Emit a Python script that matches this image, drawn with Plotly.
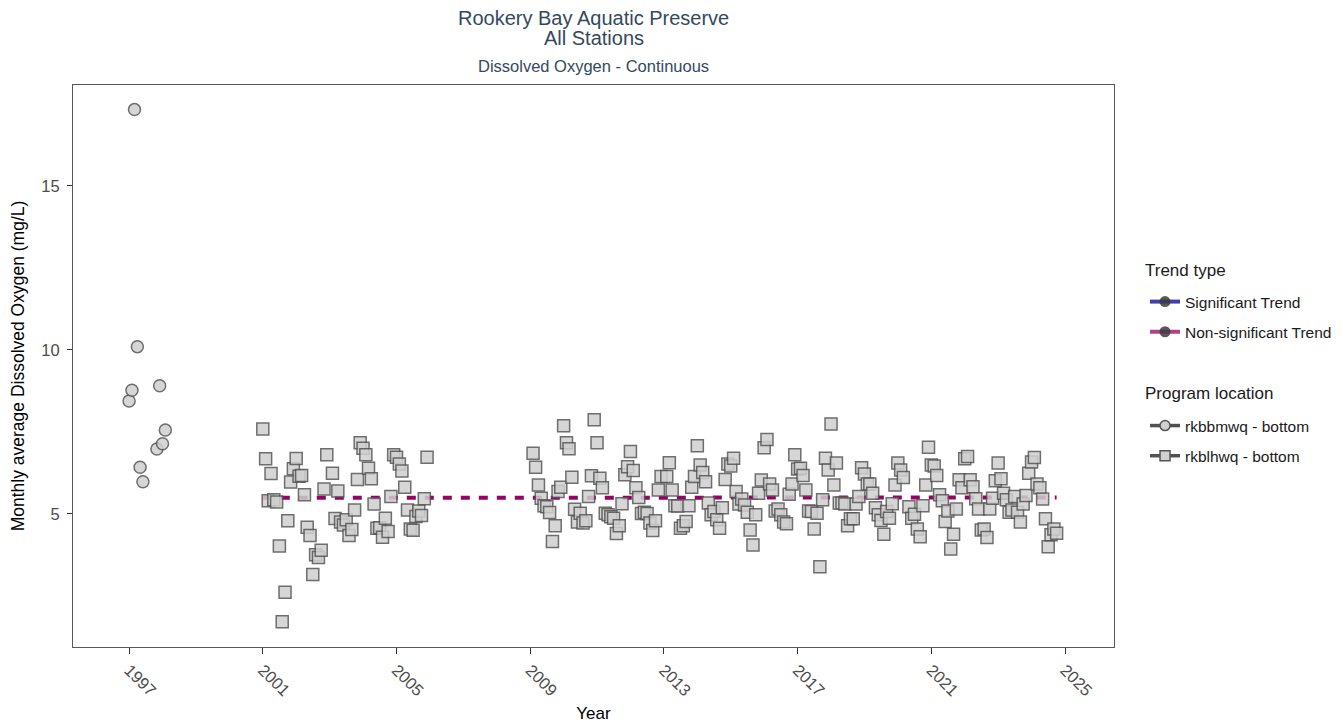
import plotly.graph_objects as go

# ---------------- text ----------------
TITLE_LINE1 = "Rookery Bay Aquatic Preserve"
TITLE_LINE2 = "All Stations"
SUBTITLE = "Dissolved Oxygen - Continuous"
Y_TITLE = "Monthly average Dissolved Oxygen (mg/L)"
X_TITLE = "Year"
TREND_LEGEND_TITLE = "Trend type"
PROGRAM_LEGEND_TITLE = "Program location"
TREND_TYPES = ["Significant Trend", "Non-significant Trend"]
PROGRAM_LOCATIONS = ["rkbbmwq - bottom", "rkblhwq - bottom"]

# ---------------- data ----------------
# rkbbmwq - bottom (circles)
rkbbmwq_months = ["1997-01", "1997-02", "1997-03", "1997-04", "1997-05",
                  "1997-06", "1997-11", "1997-12", "1998-01", "1998-02"]
rkbbmwq_do = [8.44, 8.77, 17.33, 10.10, 6.42, 5.98, 6.98, 8.91, 7.14, 7.56]

# rkblhwq - bottom (squares), monthly values Jan..Dec, None = no data
rkblhwq_2001 = [7.59, 6.68, 5.40, 6.23, 5.43, 5.36, 4.02, 1.71, 2.61, 4.79, 5.97, 6.38]
rkblhwq_2002 = [6.69, 6.15, 6.17, 5.58, 4.59, 4.34, 3.15, 3.75, 3.67, 3.89, 5.76, 6.80]
rkblhwq_2003 = [None, 6.24, 4.86, 5.70, 4.75, 4.66, 4.82, 4.34, 4.52, 5.12, 6.05, 7.17]
rkblhwq_2004 = [7.00, 6.80, 6.39, 6.07, 5.30, 4.56, 4.58, 4.29, 4.87, 4.46, 5.53, 6.80]
rkblhwq_2005 = [6.73, 6.52, 6.31, 5.81, 5.12, 4.54, 4.50, 4.92, 5.09, 4.95, 5.46, 6.73]
rkblhwq_2009 = [None, 6.85, 6.42, 5.88, 5.48, 5.25, 5.22, 5.04, 4.16, 4.64, 5.68, 5.81]
rkblhwq_2010 = [7.69, 7.17, 6.99, 6.12, 5.14, 4.75, 5.02, 4.72, 4.79, 5.53, 6.16, 7.87]
rkblhwq_2011 = [7.17, 6.09, 5.80, 5.02, 4.97, 4.91, 4.87, 4.40, 4.64, 5.31, 6.19, 6.44]
rkblhwq_2012 = [6.90, 6.32, 5.80, 5.50, 5.01, 5.05, 5.01, 4.72, 4.49, 4.79, 5.73, 6.14]
rkblhwq_2013 = [None, 6.14, 6.56, 5.73, 5.25, 5.24, 4.56, 4.64, 4.77, 5.25, 5.81, 6.14]
rkblhwq_2014 = [7.08, 6.49, 6.26, 5.98, 5.33, 4.97, 5.07, 4.82, 4.56, 5.19, 6.05, 6.52]
rkblhwq_2015 = [6.46, 6.70, 5.68, 5.30, 5.45, 5.27, 5.05, 4.51, 4.05, 4.97, 5.63, 6.03]
rkblhwq_2016 = [7.02, 7.27, 5.91, 5.73, 5.09, 5.15, 4.97, 4.75, 4.70, 5.60, 5.91, 6.80]
rkblhwq_2017 = [6.37, 6.39, 6.17, 5.73, 5.09, 5.07, 4.54, 5.02, 3.39, 5.43, 6.70, 6.34]
rkblhwq_2018 = [7.74, 5.88, 6.55, 5.33, 5.33, 5.30, 4.64, 4.85, 4.85, 5.30, 5.53, 6.41]
rkblhwq_2019 = [6.22, 5.91, 5.91, 5.63, 5.19, 4.97, 4.80, 4.38, 5.07, 4.87, 5.31, 5.88]
rkblhwq_2020 = [6.55, 6.34, 6.11, None, 5.22, 4.87, 4.99, 4.54, 4.30, 5.25, 5.88, 7.03]
rkblhwq_2021 = [6.49, 6.46, 6.17, 5.58, 5.40, 4.77, 5.09, 3.93, 4.38, 5.15, 6.04, 5.80]
rkblhwq_2022 = [6.68, 6.75, 6.04, 5.83, 5.46, 5.15, 4.51, 4.54, 4.28, 5.15, 5.48, 6.01]
rkblhwq_2023 = [6.55, 6.07, 5.63, 5.43, 5.05, 5.12, 5.53, 5.05, 4.75, 5.30, 5.56, 6.24]
rkblhwq_2024 = [6.58, 6.72, 5.91, 5.80, 5.45, 4.85, 4.00, 4.36, 4.54, 4.41, None, None]

rkblhwq_years = [2001, 2002, 2003, 2004, 2005, 2009, 2010, 2011, 2012, 2013,
                 2014, 2015, 2016, 2017, 2018, 2019, 2020, 2021, 2022, 2023, 2024]
rkblhwq_by_year = [rkblhwq_2001, rkblhwq_2002, rkblhwq_2003, rkblhwq_2004, rkblhwq_2005,
                   rkblhwq_2009, rkblhwq_2010, rkblhwq_2011, rkblhwq_2012, rkblhwq_2013,
                   rkblhwq_2014, rkblhwq_2015, rkblhwq_2016, rkblhwq_2017, rkblhwq_2018,
                   rkblhwq_2019, rkblhwq_2020, rkblhwq_2021, rkblhwq_2022, rkblhwq_2023,
                   rkblhwq_2024]

# non-significant trend for rkblhwq (start, end values)
trend_do = [5.49, 5.50]

x_tick_years = [1997, 2001, 2005, 2009, 2013, 2017, 2021, 2025]
y_tick_values = [5, 10, 15]

# ---------------- build ----------------
rkbbmwq_dates = [m + "-01" for m in rkbbmwq_months]
rkblhwq_dates, rkblhwq_do = [], []
for yr, vals in zip(rkblhwq_years, rkblhwq_by_year):
    for i, v in enumerate(vals):
        if v is not None:
            rkblhwq_dates.append(f"{yr}-{i + 1:02d}-01")
            rkblhwq_do.append(v)
trend_dates = [rkblhwq_dates[0], rkblhwq_dates[-1]]

FONT = "Liberation Sans, Arial, sans-serif"
FILL = "#d0d0d0"
EDGE = "#555555"
SIG_COLOR = "rgba(0,0,153,0.75)"
NONSIG_COLOR = "rgba(153,0,102,0.75)"
TREND_LINE_COLOR = "#990066"
TEXT_DARK = "#1a1a1a"

fig = go.Figure()

fig.add_trace(go.Scatter(
    x=trend_dates, y=trend_do, mode="lines",
    line=dict(color=TREND_LINE_COLOR, width=4, dash="9px,9px"),
    showlegend=False, hoverinfo="skip"))

fig.add_trace(go.Scatter(
    x=rkbbmwq_dates, y=rkbbmwq_do, mode="markers",
    marker=dict(symbol="circle", size=12, color=FILL, opacity=0.85,
                line=dict(color=EDGE, width=1.5)),
    name=PROGRAM_LOCATIONS[0], showlegend=False))

fig.add_trace(go.Scatter(
    x=rkblhwq_dates, y=rkblhwq_do, mode="markers",
    marker=dict(symbol="square", size=12, color=FILL, opacity=0.85,
                line=dict(color=EDGE, width=1.5)),
    name=PROGRAM_LOCATIONS[1], showlegend=False))

# legend entries: Trend type
for i, (name, col) in enumerate(zip(TREND_TYPES, [SIG_COLOR, NONSIG_COLOR])):
    fig.add_trace(go.Scatter(
        x=[None], y=[None], mode="lines+markers", name=name,
        line=dict(color=col, width=4),
        marker=dict(symbol="circle", size=11, color="rgba(60,60,60,0.85)"),
        legend="legend", legendgroup=f"t{i}"))

# legend entries: Program location
for i, (name, sym) in enumerate(zip(PROGRAM_LOCATIONS, ["circle", "square"])):
    fig.add_trace(go.Scatter(
        x=[None], y=[None], mode="lines+markers", name=name,
        line=dict(color="rgba(51,51,51,0.85)", width=3.5),
        marker=dict(symbol=sym, size=10, color=FILL,
                    line=dict(color=EDGE, width=1.5)),
        legend="legend2", legendgroup=f"p{i}"))

ann_font = dict(family=FONT, color="#34495E")
legend_title_font = dict(family=FONT, size=17, color=TEXT_DARK)
fig.update_layout(
    width=1343, height=717,
    margin=dict(l=65, r=237, t=77, b=78),
    paper_bgcolor="white", plot_bgcolor="white",
    font=dict(family=FONT, color=TEXT_DARK),
    annotations=[
        dict(text=TITLE_LINE1, x=0.5, y=1.1201, xref="paper", yref="paper",
             showarrow=False, xanchor="center", yanchor="middle",
             font=dict(size=20, **ann_font)),
        dict(text=TITLE_LINE2, x=0.5, y=1.0836, xref="paper", yref="paper",
             showarrow=False, xanchor="center", yanchor="middle",
             font=dict(size=20, **ann_font)),
        dict(text=SUBTITLE, x=0.5, y=1.0338, xref="paper", yref="paper",
             showarrow=False, xanchor="center", yanchor="middle",
             font=dict(size=16.5, **ann_font)),
        dict(text=TREND_LEGEND_TITLE, x=1.0279, y=0.6708, xref="paper", yref="paper",
             showarrow=False, xanchor="left", yanchor="middle", font=legend_title_font),
        dict(text=PROGRAM_LEGEND_TITLE, x=1.0279, y=0.4502, xref="paper", yref="paper",
             showarrow=False, xanchor="left", yanchor="middle", font=legend_title_font),
    ],
    xaxis=dict(
        type="date", range=["1995-04-29", "2026-06-20"],
        tickvals=[f"{y}-01-01" for y in x_tick_years],
        ticktext=[str(y) for y in x_tick_years],
        tickangle=45, ticks="outside", ticklen=6, tickcolor="#333333",
        tickfont=dict(size=16.5, color="#4d4d4d"),
        showline=True, mirror=True, linecolor="#595959", linewidth=1,
        showgrid=False, zeroline=False, automargin=False,
        title=dict(text=X_TITLE, font=dict(size=17, color="black"), standoff=8),
    ),
    yaxis=dict(
        range=[0.94, 18.08], tickvals=y_tick_values,
        ticks="outside", ticklen=5, tickcolor="#333333", ticklabelstandoff=4,
        tickfont=dict(size=16.5, color="#4d4d4d"),
        showline=True, mirror=True, linecolor="#595959", linewidth=1,
        showgrid=False, zeroline=False, automargin=False,
        title=dict(text=Y_TITLE, font=dict(size=17.5, color="black"), standoff=22),
    ),
    legend=dict(
        x=1.0298, y=0.6441, xanchor="left", yanchor="top",
        font=dict(size=15.5, color=TEXT_DARK),
        tracegroupgap=7, bgcolor="rgba(0,0,0,0)",
    ),
    legend2=dict(
        x=1.0298, y=0.4235, xanchor="left", yanchor="top",
        font=dict(size=15.5, color=TEXT_DARK),
        tracegroupgap=7, bgcolor="rgba(0,0,0,0)",
    ),
)

fig.write_html("out.html")
